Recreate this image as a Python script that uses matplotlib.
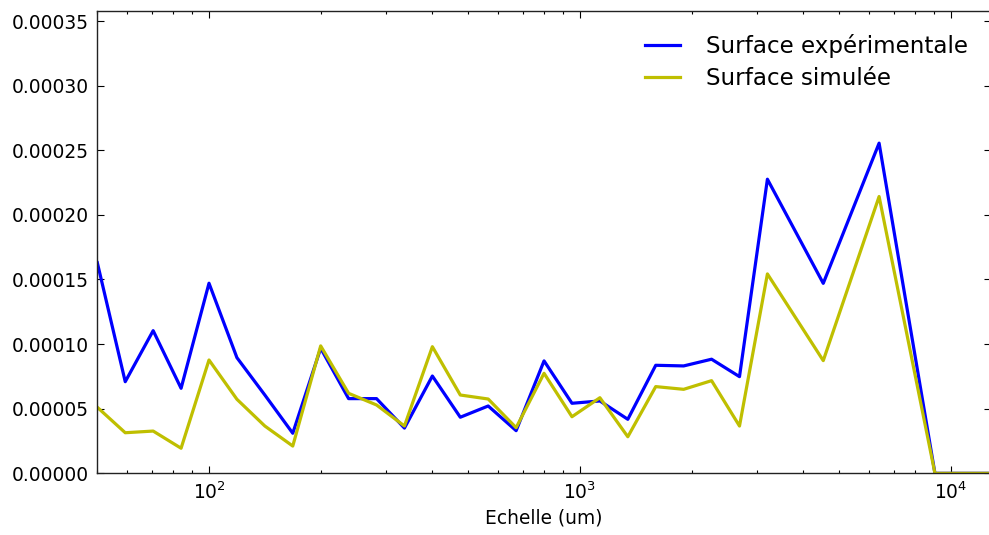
import matplotlib
matplotlib.use("Agg")
import matplotlib.pyplot as plt
from matplotlib.ticker import MultipleLocator, FormatStrFormatter

# scales in um: 50 * 2^(k/4) up to 3200, then 50 * 2^(k/2)
exponents = [0, 0.25, 0.5, 0.75, 1, 1.25, 1.5, 1.75, 2, 2.25, 2.5, 2.75,
             3, 3.25, 3.5, 3.75, 4, 4.25, 4.5, 4.75, 5, 5.25, 5.5, 5.75, 6,
             6.5, 7, 7.5, 8]
scales = [50 * 2 ** e for e in exponents]

surf_exp = [1.63e-4, 7.09e-5, 1.104e-4, 6.58e-5, 1.471e-4, 8.95e-5, 6.06e-5,
            3.10e-5, 9.68e-5, 5.78e-5, 5.78e-5, 3.50e-5, 7.53e-5, 4.34e-5,
            5.21e-5, 3.30e-5, 8.70e-5, 5.42e-5, 5.60e-5, 4.18e-5, 8.36e-5,
            8.31e-5, 8.83e-5, 7.48e-5, 2.276e-4, 1.47e-4, 2.555e-4, 0.0, 0.0]
surf_sim = [5.11e-5, 3.14e-5, 3.27e-5, 1.94e-5, 8.77e-5, 5.73e-5, 3.66e-5,
            2.11e-5, 9.86e-5, 6.19e-5, 5.29e-5, 3.66e-5, 9.80e-5, 6.06e-5,
            5.75e-5, 3.53e-5, 7.74e-5, 4.38e-5, 5.85e-5, 2.83e-5, 6.71e-5,
            6.50e-5, 7.17e-5, 3.66e-5, 1.543e-4, 8.72e-5, 2.142e-4, 0.0, 0.0]

fig = plt.figure(figsize=(9.89, 5.35), dpi=100)
ax = fig.add_axes([0.0984, 0.1153, 0.9034, 0.8647])

ax.plot(scales, surf_exp, color=(0, 0, 1), lw=2.3, label="Surface expérimentale")
ax.plot(scales, surf_sim, color=(0.75, 0.75, 0), lw=2.3, label="Surface simulée")

ax.set_xscale("log")
ax.set_xlim(scales[0], scales[-1])
ax.set_ylim(0, 0.000358)
ax.yaxis.set_major_locator(MultipleLocator(0.00005))
ax.yaxis.set_major_formatter(FormatStrFormatter("%.5f"))

ax.tick_params(which="both", direction="in", top=True, right=True,
               labelsize=13.4, width=0.8)
ax.tick_params(which="major", length=5, pad=6)
ax.tick_params(which="minor", length=2.5)
for s in ax.spines.values():
    s.set_linewidth(1.0)
    s.set_color("#222222")

ax.set_xlabel("Echelle (um)", fontsize=13.4)
ax.legend(loc="upper right", frameon=False, fontsize=16.6,
          handlelength=1.55, handletextpad=1.1, borderaxespad=0.6,
          labelspacing=0.4)

plt.savefig("out.png", dpi=100)
plt.close()
